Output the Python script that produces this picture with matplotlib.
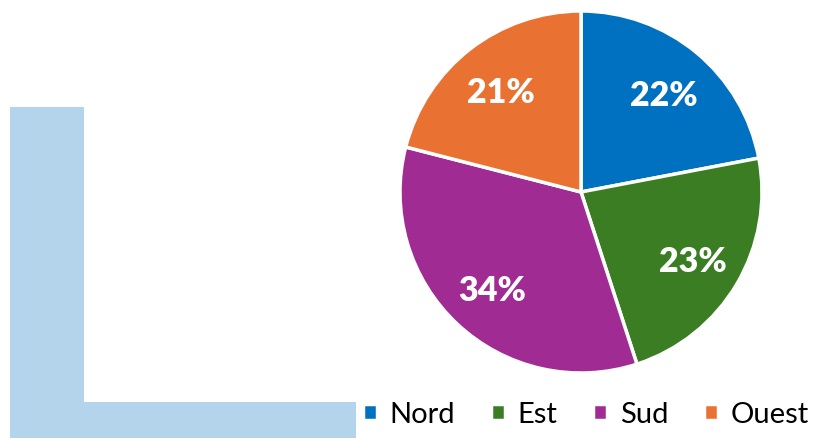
import matplotlib
matplotlib.use("Agg")
import matplotlib.pyplot as plt
from matplotlib.patches import Rectangle

regions = ['Nord', 'Est', 'Sud', 'Ouest']
shares = [22, 23, 34, 21]
colors = ['#0070C0', '#3A7D22', '#A02B93', '#E97132']

plt.rcParams['font.family'] = ['Lato', 'DejaVu Sans']

W, H = 816, 439
fig = plt.figure(figsize=(W / 100, H / 100), dpi=100)

# decorative L shape (pixel coords from top-left)
def px_rect(x0, y0, x1, y1):
    return Rectangle((x0 / W, 1 - y1 / H), (x1 - x0) / W, (y1 - y0) / H,
                     transform=fig.transFigure, color='#B4D4EC', lw=0, zorder=0)

fig.patches.append(px_rect(10, 108, 84, 439))
fig.patches.append(px_rect(10, 403, 356, 439))

# pie, centre (581,193), radius 181 px
cx, cy, r = 581, 193, 181
ax = fig.add_axes([(cx - r) / W, 1 - (cy + r) / H, 2 * r / W, 2 * r / H])
wedges, texts, autotexts = ax.pie(
    shares, colors=colors, startangle=90, counterclock=False,
    autopct='%d%%', pctdistance=0.72,
    wedgeprops=dict(edgecolor='white', linewidth=2.5),
    textprops=dict(color='white', fontsize=24.5, fontweight='heavy'))
for t in autotexts:
    t.set_va('center_baseline')
ax.set_aspect('auto')
ax.set_xlim(-1, 1)
ax.set_ylim(-1, 1)
ax.axis('off')

fig.legend(wedges, regions, loc='center left', bbox_to_anchor=(363 / W, 1 - 415 / H),
           ncol=4, frameon=False, fontsize=21, handlelength=0.47, handleheight=0.47,
           handletextpad=0.45, columnspacing=1.22, borderaxespad=0, borderpad=0)

fig.savefig('out.png', dpi=100)
